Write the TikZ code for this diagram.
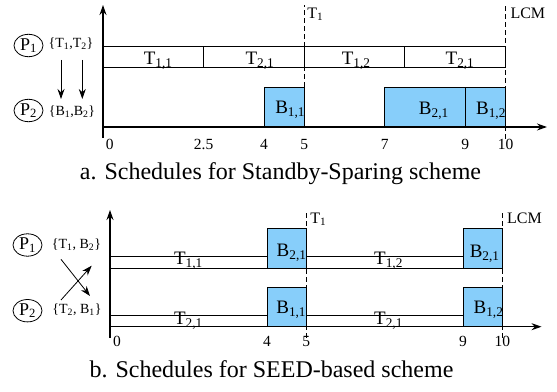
\documentclass[tikz,border=0pt]{standalone}
\usepackage{fontspec}
\setmainfont{Liberation Serif}
\usepackage{xcolor}
\usetikzlibrary{calc, shapes.geometric, positioning, arrows.meta}

\definecolor{skyblue}{HTML}{87CEFA}

\begin{document}
\begin{tikzpicture}[>={Stealth[length=10pt,width=7pt]}, x=1pt, y=1pt,
    axis/.style={->, line width=1.2pt},
    strip/.style={draw, fill=white, line width=0.8pt},
    backup/.style={draw, fill=skyblue, line width=0.8pt},
    bound/.style={line width=0.8pt, dash pattern=on 5pt off 3pt},
    proc/.style={draw, ellipse, line width=0.8pt, inner sep=0pt,
        minimum width=29pt, minimum height=22.4pt,
        font=\fontsize{18}{18}\selectfont},
    taskset/.style={anchor=base, inner sep=0pt, font=\fontsize{14}{14}\selectfont},
    joblbl/.style={anchor=base, inner sep=0pt, font=\fontsize{19}{19}\selectfont},
    ticklbl/.style={anchor=base, inner sep=0pt, font=\fontsize{15.5}{15.5}\selectfont},
    marklbl/.style={anchor=base west, inner sep=0pt, font=\fontsize{16}{16}\selectfont},
    caption/.style={anchor=base, inner sep=0pt, font=\fontsize{24}{24}\selectfont}]

    \useasboundingbox (0,0) rectangle (557,391);

    % =================================================================
    % 1. PHAN a: STANDBY-SPARING
    % =================================================================
    % Bo xu ly va tap cong viec
    \node[proc] (P1a) at (28.5,345.5) {P\textsubscript{1}};
    \node[proc] (P2a) at (28.5,280.5) {P\textsubscript{2}};
    \node[taskset] (SetTa) at (71,343.3) {\{T\textsubscript{1},T\textsubscript{2}\}};
    \node[taskset] (SetBa) at (72,275.3) {\{B\textsubscript{1},B\textsubscript{2}\}};

    % Mui ten T -> B
    \coordinate (T1a) at (61,331);
    \coordinate (B1a) at (61,292);
    \coordinate (T2a) at (82.3,331);
    \coordinate (B2a) at (82.3,292);
    \draw[->, line width=0.8pt] (T1a) -- (B1a);
    \draw[->, line width=0.8pt] (T2a) -- (B2a);

    \begin{scope}[shift={(103,264)}, x=40.25pt]
        % Cac cong viec chinh tren P1
        \draw[strip] (0,60) rectangle (2.5,80.3);
        \draw[strip] (2.5,60) rectangle (5,80.3);
        \draw[strip] (5,60) rectangle (7.5,80.3);
        \draw[strip] (7.5,60) rectangle (10,80.3);

        % Cac ban sao du phong tren P2
        \draw[backup] (4,0) rectangle (5,39.7);
        \draw[backup] (7,0) rectangle (9,39.7);
        \draw[backup] (9,0) rectangle (10,39.7);

        % Truc toa do
        \draw[axis] (0,-11) -- (0,122);
        \draw[axis] (0,0) -- (11.03,0);

        % Moc thoi gian
        \draw[bound] (5,0) -- (5,122);
        \draw[bound] (10,-12) -- (10,122);
        \node[marklbl] (Ma) at (5.07,108.7) {T\textsubscript{1}};
        \node[marklbl] (La) at (10.12,108.7) {LCM};

        % Nhan cong viec
        \node[joblbl] (a11) at (1.37,62) {T\textsubscript{1,1}};
        \node[joblbl] (a21) at (3.90,62) {T\textsubscript{2,1}};
        \node[joblbl] (a12) at (6.29,62) {T\textsubscript{1,2}};
        \node[joblbl] (a22) at (8.87,62) {T\textsubscript{2,1}};
        \node[joblbl] (ab11) at (4.65,13) {B\textsubscript{1,1}};
        \node[joblbl] (ab21) at (8.22,12) {B\textsubscript{2,1}};
        \node[joblbl] (ab12) at (9.64,12.5) {B\textsubscript{1,2}};

        % So tren truc
        \foreach \t/\s in {0.17/0, 2.5/2.5, 4/4, 5/5, 7/7, 9/9, 10/10}
            \node[ticklbl] (xa-\s) at (\t,-22.7) {\s};
    \end{scope}

    \node[caption] (capa) at (280.5,211) {a. Schedules for Standby-Sparing scheme};

    % =================================================================
    % 2. PHAN b: SEED
    % =================================================================
    \node[proc] (P1b) at (27.5,146) {P\textsubscript{1}};
    \node[proc] (P2b) at (27.5,80.3) {P\textsubscript{2}};
    \node[taskset] (SetTb) at (76.5,142.7) {\{T\textsubscript{1}, B\textsubscript{2}\}};
    \node[taskset] (SetBb) at (77,77.7) {\{T\textsubscript{2}, B\textsubscript{1}\}};

    % Mui ten cheo
    \coordinate (T1b) at (61,131.7);
    \coordinate (B1b) at (90,95);
    \coordinate (T2b) at (61,91);
    \coordinate (B2b) at (91.7,125.3);
    \draw[->, line width=0.8pt] (T1b) -- (B1b);
    \draw[->, line width=0.8pt] (T2b) -- (B2b);

    \begin{scope}[shift={(110,64.3)}, x=39.23pt]
        % Hang P1
        \draw[strip] (0,58.4) rectangle (4,70.7);
        \draw[strip] (5,58.4) rectangle (9,70.7);
        \draw[backup] (4,58.4) rectangle (5,98.4);
        \draw[backup] (9,58.4) rectangle (10,98.4);

        % Hang P2
        \draw[strip] (0,0) rectangle (4,11.7);
        \draw[strip] (5,0) rectangle (9,11.7);
        \draw[backup] (4,0) rectangle (5,39.4);
        \draw[backup] (9,0) rectangle (10,39.4);

        % Truc toa do
        \draw[axis] (0,-11.3) -- (0,116.7);
        \draw[axis] (0,0) -- (11.0,0);

        % Moc thoi gian
        \draw[bound] (5,-11) -- (5,116.7);
        \draw[bound] (10,-11) -- (10,116.7);
        \node[marklbl] (Mb) at (5.1,103.4) {T\textsubscript{1}};
        \node[marklbl] (Lb) at (10.12,103.4) {LCM};

        % Nhan cong viec
        \node[joblbl] (b11) at (2.0,61.7) {T\textsubscript{1,1}};
        \node[joblbl] (b12) at (7.1,61.7) {T\textsubscript{1,2}};
        \node[joblbl] (b21) at (2.0,1.7) {T\textsubscript{2,1}};
        \node[joblbl] (b22) at (7.1,1.7) {T\textsubscript{2,1}};
        \node[joblbl] (bb21) at (4.63,70) {B\textsubscript{2,1}};
        \node[joblbl] (bb11) at (4.62,13.4) {B\textsubscript{1,1}};
        \node[joblbl] (bb22) at (9.55,68.7) {B\textsubscript{2,1}};
        \node[joblbl] (bb12) at (9.65,12.7) {B\textsubscript{1,2}};

        % So tren truc
        \foreach \t/\s in {0.18/0, 4/4, 5/5, 9/9, 10/10}
            \node[ticklbl] (xb-\s) at (\t,-20) {\s};
    \end{scope}

    \node[caption] (capb) at (271.5,13) {b. Schedules for SEED-based scheme};

\end{tikzpicture}
\end{document}
